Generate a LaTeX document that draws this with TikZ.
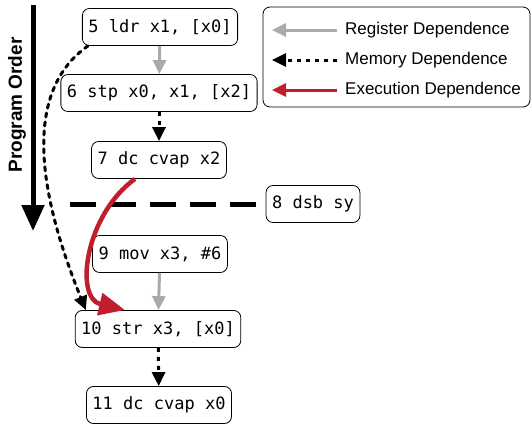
\documentclass[tikz,border=0pt]{standalone}
\usepackage{fontspec}
\setmonofont{DejaVu Sans Mono}
\setsansfont{Liberation Sans}
\usetikzlibrary{arrows.meta}
\definecolor{regcol}{RGB}{170,170,170}
\definecolor{execcol}{RGB}{192,30,45}
\tikzset{
    instr/.style={draw,rounded corners=7pt,line width=0.8pt,inner xsep=6pt,minimum height=37pt,font=\fontsize{17}{17}\selectfont\ttfamily},
    regdep/.style={regcol,line width=3pt,-{Triangle[length=14pt,width=13pt]}},
    memdep/.style={black,line width=3pt,dash pattern=on 4pt off 5pt,-{Triangle[length=14pt,width=13pt]}},
    execdep/.style={execcol,line width=4.5pt,-{Triangle[length=26pt,width=22pt]}},
}
\begin{document}
\begin{tikzpicture}[x=1pt,y=-1pt]
            \useasboundingbox (0,0) rectangle (531,426);
            % instructions
            \node[instr] (i5) at (160,27) {5 ldr x1, [x0]};
            \node[instr] (i6) at (159,93) {6 stp x0, x1, [x2]};
            \node[instr] (i7) at (159,160) {7 dc cvap x2};
            \node[instr] (i8) at (313,204) {8 dsb sy};
            \node[instr] (i9) at (160,254) {9 mov x3, \#6};
            \node[instr] (i10) at (158,329) {10 str x3, [x0]};
            \node[instr] (i11) at (159,405) {11 dc cvap x0};
            % program order
            \draw[line width=5pt,-{Triangle[length=26pt,width=22pt]}] (33,5) -- (33,231);
            \node[rotate=90,font=\fontsize{19}{19}\selectfont\sffamily\bfseries] (po) at (17,105) {Program Order};
            % fence
            \coordinate (f0) at (70,204);
            \draw[line width=5pt,dash pattern=on 26pt off 14pt] (f0) -- (i8.west);
            % dependences
            \draw[regdep] (i5) -- (i6);
            \draw[memdep] (i6) -- (i7);
            \draw[regdep] (i9) -- (i10);
            \draw[memdep] (i10) -- (i11);
            \draw[memdep,line cap=round] ([xshift=6pt]i5.south west) to[out=215,in=112,looseness=0.9] ([xshift=11pt]i10.north west);
            \draw[execdep] ([xshift=-24pt]i7.south) .. controls (85,215) and (74,298) .. ([xshift=-33pt]i10.north);
            % legend
            \node[draw,rounded corners=7pt,line width=0.8pt,minimum width=267pt,minimum height=100pt] (key) at (396.5,57) {};
            \foreach \y/\s/\t in {30/regdep/Register Dependence,60/memdep/Memory Dependence,90/execdep/Execution Dependence}{
                \node[anchor=west,inner sep=0pt,font=\fontsize{17}{17}\selectfont\sffamily] (k\y) at (345,\y) {\t};
                \coordinate (a\y) at (272,\y);
                \draw[\s,line width=3pt,-{Triangle[length=14pt,width=13pt]}] (k\y.west) ++(-8,0) -- (a\y);
            }
        \end{tikzpicture}
\end{document}
